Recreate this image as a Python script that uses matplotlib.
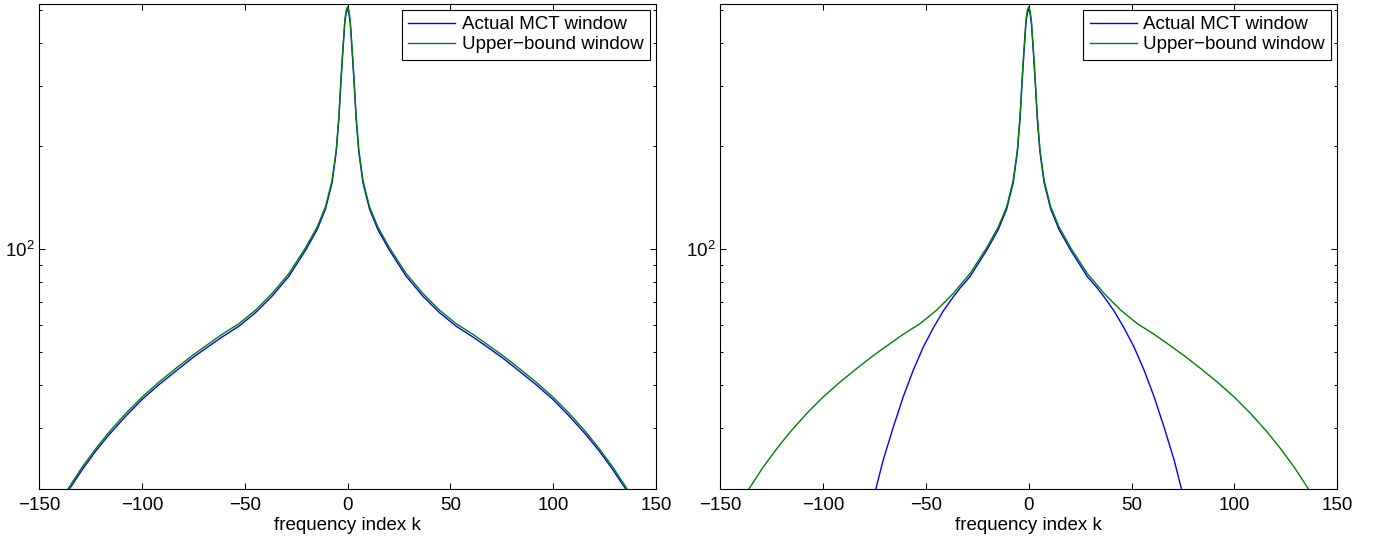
import numpy as np
import matplotlib.pyplot as plt
from matplotlib.ticker import LogLocator, NullFormatter

plt.rcParams['font.family'] = ['Liberation Sans', 'DejaVu Sans']
plt.rcParams['axes.unicode_minus'] = True

# half spectra (k >= 0), mirrored to negative k since the windows are symmetric
k_half = [0, 0.6, 1.3, 2.3, 3.3, 4.2, 5.5, 7.5, 10.7, 14.8, 20.4, 28.5, 36.7, 44.7,
          52.8, 61.0, 67.4, 75.5, 83.6, 91.7, 99.9, 107.9, 116.0, 122.5, 129.0, 135.8, 140]
upper_half = [511, 500, 468, 382, 305, 244, 195, 159, 133, 116, 101, 84.9, 74.2, 66.4,
              60.6, 56.4, 53.0, 48.9, 44.8, 40.9, 37.0, 33.1, 29.2, 26.1, 23.1, 20.0, 18.2]
actual_left_half = [502, 492, 460, 375, 300, 240, 192, 156.5, 131, 114, 99.3, 83.4, 72.9, 65.3,
                    59.6, 55.4, 52.1, 48.1, 44.0, 40.2, 36.4, 32.5, 28.7, 25.7, 22.7, 19.7, 17.9]

k_right_half = [0, 0.6, 1.3, 2.3, 3.3, 4.2, 5.5, 7.5, 10.7, 14.8, 20.4, 28.5, 33.4, 36.7,
                41.5, 46.4, 51.2, 56.1, 61.0, 65.8, 70.7, 74.2, 77]
actual_right_half = [502, 492, 460, 375, 300, 240, 192, 156.5, 131, 114, 99.3, 83.2, 76.9, 72.5,
                     66.0, 58.8, 51.8, 44.3, 37.0, 30.2, 24.2, 20.0, 17.0]


def mirror(k, v):
    k = np.asarray(k, float)
    v = np.asarray(v, float)
    return np.concatenate([-k[:0:-1], k]), np.concatenate([v[:0:-1], v])


k_up, v_up = mirror(k_half, upper_half)
k_al, v_al = mirror(k_half, actual_left_half)
k_ar, v_ar = mirror(k_right_half, actual_right_half)

fs = 13.5
fig = plt.figure(figsize=(13.79, 5.42), dpi=100)
ax1 = fig.add_axes([0.0283, 0.0987, 0.4474, 0.8948])
ax2 = fig.add_axes([0.5221, 0.0987, 0.4477, 0.8948])

for ax, (ka, va) in zip([ax1, ax2], [(k_al, v_al), (k_ar, v_ar)]):
    ax.semilogy(ka, va, color=(0, 0, 1), lw=1.0, label='Actual MCT window')
    ax.semilogy(k_up, v_up, color=(0, 0.5, 0), lw=1.0, label='Upper\u2212bound window')
    ax.set_xlim(-150, 150)
    ax.set_ylim(20, 522)
    ax.set_xticks([-150, -100, -50, 0, 50, 100, 150])
    ax.yaxis.set_major_locator(LogLocator(base=10, numticks=10))
    ax.yaxis.set_minor_locator(LogLocator(base=10, subs=np.arange(2, 10), numticks=20))
    ax.yaxis.set_minor_formatter(NullFormatter())
    ax.tick_params(which='both', direction='in', top=True, right=True,
                   labelsize=fs, width=0.75)
    ax.tick_params(axis='x', pad=6)
    ax.tick_params(axis='y', pad=3)
    ax.tick_params(which='major', length=4.3)
    ax.tick_params(which='minor', length=2.2)
    ax.tick_params(axis='x', which='minor', bottom=False, top=False)
    for s in ax.spines.values():
        s.set_linewidth(0.8)
    ax.set_xlabel('frequency index k', fontsize=fs, labelpad=2)
    leg = ax.legend(loc='upper right', fontsize=fs, fancybox=False, framealpha=1,
                    edgecolor='black', borderaxespad=0.32, handlelength=2.5,
                    handletextpad=0.35, borderpad=0.35, labelspacing=0.15)
    leg.get_frame().set_linewidth(0.8)

fig.savefig('out.png', dpi=100)
